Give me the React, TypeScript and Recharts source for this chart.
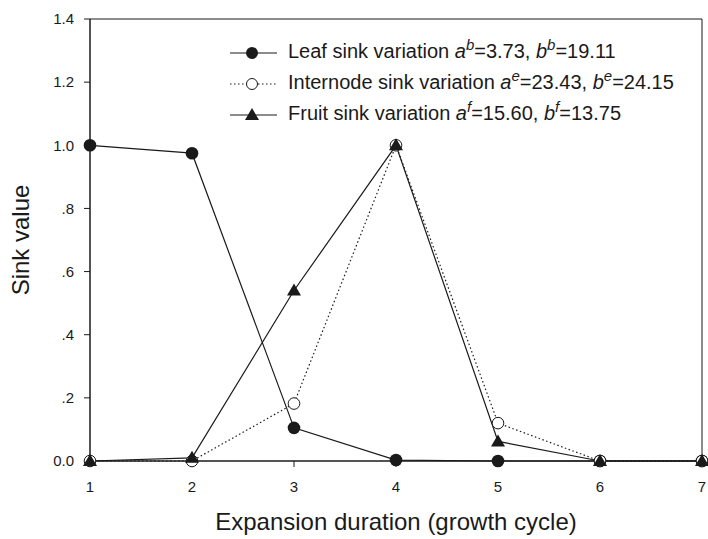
import { LineChart, Line, XAxis, YAxis, ReferenceArea } from 'recharts';

const cycles = [1, 2, 3, 4, 5, 6, 7];
const leafSink = [1.0, 0.975, 0.105, 0.003, 0.0, 0.0, 0.0];
const internodeSink = [0.0, 0.0, 0.182, 1.0, 0.12, 0.0, 0.0];
const fruitSink = [0.0, 0.01, 0.54, 1.0, 0.062, 0.0, 0.0];
const yTicks = [0, 0.2, 0.4, 0.6, 0.8, 1.0, 1.2, 1.4];

const data = cycles.map((c, i) => ({
  cycle: c,
  leaf: leafSink[i],
  internode: internodeSink[i],
  fruit: fruitSink[i],
}));

const font = '"Liberation Sans", Arial, sans-serif';
const ink = '#1a1a1a';

const fmtY = (v: number) => (v === 0 ? '0.0' : v >= 1 ? v.toFixed(1) : v.toFixed(1).replace(/^0/, ''));

const FilledDot = (p: any) => <circle key={`l${p.index}`} cx={p.cx} cy={p.cy} r={6.3} fill={ink} stroke="none" />;
const OpenDot = (p: any) => <circle key={`i${p.index}`} cx={p.cx} cy={p.cy} r={5.8} fill="#fff" stroke={ink} strokeWidth={1} />;
const TriDot = (p: any) => (
  <polygon
    key={`f${p.index}`}
    points={`${p.cx},${p.cy - 7} ${p.cx - 7},${p.cy + 5} ${p.cx + 7},${p.cy + 5}`}
    fill={ink}
  />
);

const Sym = ({ kind }: { kind: string }) => (
  <svg width={48} height={16} style={{ verticalAlign: 'middle', marginRight: 10 }}>
    <line x1={0} y1={8} x2={47} y2={8} stroke={ink} strokeWidth={1.2} strokeDasharray={kind === 'open' ? '1.5 2.5' : undefined} />
    {kind === 'filled' && <circle cx={22} cy={8} r={6} fill={ink} />}
    {kind === 'open' && <circle cx={22} cy={8} r={5.5} fill="#fff" stroke={ink} />}
    {kind === 'tri' && <polygon points="22,1 15,13 29,13" fill={ink} />}
  </svg>
);

const sup = (s: string) => (
  <sup style={{ fontStyle: 'italic', fontSize: 15, lineHeight: 0 }}>{s}</sup>
);

const LegendBox = () => (
  <div
    style={{
      position: 'absolute',
      left: 230,
      top: 36,
      fontFamily: font,
      fontSize: 20,
      color: ink,
      lineHeight: '31px',
      whiteSpace: 'nowrap',
      pointerEvents: 'none',
    }}
  >
    <div>
      <Sym kind="filled" />Leaf sink variation <i>a</i>{sup('b')}=3.73, <i>b</i>{sup('b')}=19.11
    </div>
    <div>
      <Sym kind="open" />Internode sink variation <i>a</i>{sup('e')}=23.43, <i>b</i>{sup('e')}=24.15
    </div>
    <div>
      <Sym kind="tri" />Fruit sink variation <i>a</i>{sup('f')}=15.60, <i>b</i>{sup('f')}=13.75
    </div>
  </div>
);

const XTitle = (props: any) => {
  const vb = props.viewBox || {};
  return (
    <text x={vb.x + vb.width / 2} y={530} textAnchor="middle" fill={ink} fontSize={24} fontFamily={font}>
      Expansion duration (growth cycle)
    </text>
  );
};

const YTitle = (props: any) => {
  const vb = props.viewBox || {};
  const cy = vb.y + vb.height / 2;
  return (
    <text x={29} y={cy} transform={`rotate(-90, 29, ${cy})`} textAnchor="middle" fill={ink} fontSize={24} fontFamily={font}>
      Sink value
    </text>
  );
};

export default function App() {
  return (
    <div style={{ position: 'absolute', left: 0, top: 0, width: 708, height: 539, background: '#fff' }}>
      <LineChart width={708} height={539} data={data} margin={{ top: 19, right: 6, left: 0, bottom: 0 }}>
        <XAxis
          dataKey="cycle"
          type="number"
          domain={[1, 7]}
          ticks={cycles}
          height={78}
          stroke={ink}
          tickSize={6}
          tickMargin={14}
          tick={{ fill: ink, fontSize: 15, fontFamily: font }}
          label={<XTitle />}
        />
        <YAxis
          type="number"
          domain={[0, 1.4]}
          ticks={yTicks}
          width={90}
          stroke={ink}
          tickSize={6}
          tickMargin={10}
          tickFormatter={fmtY}
          tick={{ fill: ink, fontSize: 15, fontFamily: font }}
          label={<YTitle />}
        />
        <ReferenceArea x1={1} x2={7} y1={0} y2={1.4} fill="none" stroke={ink} strokeWidth={1} ifOverflow="visible" />
        <Line dataKey="leaf" stroke={ink} strokeWidth={1.2} dot={FilledDot} isAnimationActive={false} />
        <Line dataKey="internode" stroke={ink} strokeWidth={1.2} strokeDasharray="1.5 2.5" dot={OpenDot} isAnimationActive={false} />
        <Line dataKey="fruit" stroke={ink} strokeWidth={1.2} dot={TriDot} isAnimationActive={false} />
      </LineChart>
      <LegendBox />
    </div>
  );
}
